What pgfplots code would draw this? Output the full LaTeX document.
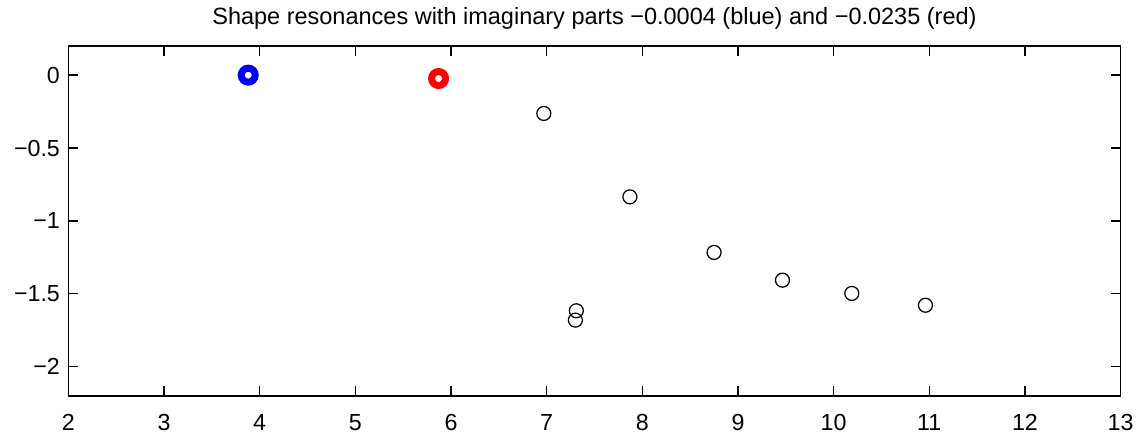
\documentclass[border=0pt]{standalone}
\usepackage{pgfplots}
\pgfplotsset{compat=1.18}
\usepackage{fontspec}
\setmainfont{Liberation Sans}
\begin{document}
\fontsize{9.3}{11}\selectfont
\begin{tikzpicture}
\begin{axis}[
  scale only axis,
  width=420.8pt, height=140pt,
  xmin=2, xmax=13, ymin=-2.2, ymax=0.2,
  xtick={2,3,...,13},
  ytick={-2,-1.5,-1,-0.5,0},
  yticklabels={−2,−1.5,−1,−0.5,0},
  tick align=inside,
  major tick length=4pt,
  axis line style={line width=0.6pt},
  tick style={line width=0.5pt, black},
  /pgf/number format/assume math mode=true,
  ticklabel style={font=\fontsize{9.3}{11}\selectfont},
  xticklabel style={yshift=-4pt, inner xsep=1pt},
  yticklabel style={inner xsep=5.6pt, xshift=2.4pt},
  title={Shape resonances with imaginary parts −0.0004 (blue) and −0.0235 (red)},
  title style={font=\fontsize{9.4}{11}\selectfont, yshift=-2.8pt},
]
\addplot[only marks, mark=o, mark size=2.8pt, mark options={line width=0.5pt, black}]
  coordinates {(6.97,-0.263) (7.87,-0.835) (8.75,-1.216) (9.465,-1.406) (10.19,-1.497) (10.96,-1.578) (7.31,-1.616) (7.30,-1.68)};
\addplot[only marks, mark=o, mark size=2.8pt, mark options={line width=2.8pt, blue}]
  coordinates {(3.88,-0.0004)};
\addplot[only marks, mark=o, mark size=2.8pt, mark options={line width=2.8pt, red}]
  coordinates {(5.87,-0.0235)};
\end{axis}
\end{tikzpicture}
\end{document}
